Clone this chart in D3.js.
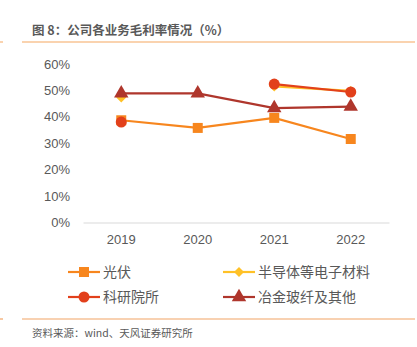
<!DOCTYPE html>
<html>
<head>
<meta charset="utf-8">
<script src="https://cdn.jsdelivr.net/npm/d3@7"></script>
<style>
  body { margin: 0; background: #fff; }
  svg { display: block; font-family: "Noto Sans CJK SC", "Liberation Sans", sans-serif; }
</style>
</head>
<body>
<script>
const width = 417, height = 347;

const years = ["2019", "2020", "2021", "2022"];
const yTicks = [0, 10, 20, 30, 40, 50, 60];

// gross margin by segment, % (null = no data that year)
const pv = [38.7, 35.8, 39.6, 31.6];
const semi = [47.3, null, 51.5, 49.8];
const research = [38.0, null, 52.4, 49.4];
const metal = [48.9, 48.9, 43.3, 43.9];

const seriesNames = ["光伏", "半导体等电子材料", "科研院所", "冶金玻纤及其他"];
const seriesColors = ["#F7861E", "#FFC127", "#E2401B", "#AF362C"];
const seriesShapes = [d3.symbolSquare, d3.symbolSquare, d3.symbolCircle, d3.symbolTriangle];
const seriesRotate = [0, 45, 0, 0];
const seriesSizes = [100, 50, 95, 90];
const seriesData = [pv, semi, research, metal];

const svg = d3.select("body").append("svg")
    .attr("width", width)
    .attr("height", height);

// header
svg.append("text")
    .attr("x", 32).attr("y", 35)
    .attr("font-size", 12.5)
    .attr("font-weight", "bold")
    .attr("fill", "#595959")
    .text("图 8：公司各业务毛利率情况（%）");

svg.append("line").attr("x1", 0).attr("x2", 3).attr("y1", 42).attr("y2", 42)
    .attr("stroke", "#F9C594").attr("stroke-width", 1.5);
svg.append("line").attr("x1", 22).attr("x2", 415).attr("y1", 42).attr("y2", 42)
    .attr("stroke", "#F9C594").attr("stroke-width", 1.5);

const x = d3.scaleBand().domain(years).range([83, 389]);
const y = d3.scaleLinear().domain([0, 60]).range([222.5, 64]);

// y labels (no axis line)
svg.append("g").selectAll("text")
    .data(yTicks).enter().append("text")
    .attr("x", 70)
    .attr("y", d => y(d))
    .attr("dy", "0.35em")
    .attr("text-anchor", "end")
    .attr("font-size", 13)
    .attr("font-family", "Liberation Sans, sans-serif")
    .attr("fill", "#595959")
    .text(d => d + "%");

const xAxis = svg.append("g")
    .attr("transform", "translate(0," + y(0) + ")")
    .call(d3.axisBottom(x).tickSize(0).tickPadding(12));
xAxis.select(".domain").attr("stroke", "#D9D9D9").attr("stroke-width", 1.2);
xAxis.selectAll("text")
    .attr("font-size", 13)
    .attr("fill", "#595959")
    .attr("font-family", "Liberation Sans, sans-serif");

const cx = d => x(d) + x.bandwidth() / 2;

const line = d3.line()
    .defined(d => d.v != null)
    .x(d => cx(d.year))
    .y(d => y(d.v));

seriesData.forEach((vals, i) => {
    const pts = years.map((yr, j) => ({ year: yr, v: vals[j] }));
    const g = svg.append("g");
    g.append("path")
        .datum(pts)
        .attr("d", line)
        .attr("fill", "none")
        .attr("stroke", seriesColors[i])
        .attr("stroke-width", 2.2);
    g.selectAll("path.mark")
        .data(pts.filter(d => d.v != null))
        .enter().append("path")
        .attr("class", "mark")
        .attr("d", d3.symbol().type(seriesShapes[i]).size(seriesSizes[i]))
        .attr("transform", d => "translate(" + cx(d.year) + "," + y(d.v) + ") rotate(" + seriesRotate[i] + ")")
        .attr("fill", seriesColors[i]);
});

// legend
const legendPos = [[68, 272], [223, 272], [68, 297], [223, 297]];
seriesNames.forEach((name, i) => {
    const [lx, ly] = legendPos[i];
    const g = svg.append("g").attr("transform", "translate(" + lx + "," + ly + ")");
    g.append("line").attr("x1", 0).attr("x2", 32).attr("y1", 0).attr("y2", 0)
        .attr("stroke", seriesColors[i]).attr("stroke-width", 2.2);
    g.append("path")
        .attr("d", d3.symbol().type(seriesShapes[i]).size(seriesSizes[i]))
        .attr("transform", "translate(16,0) rotate(" + seriesRotate[i] + ")")
        .attr("fill", seriesColors[i]);
    g.append("text")
        .attr("x", 35).attr("y", 0).attr("dy", "0.36em")
        .attr("font-size", 14)
        .attr("fill", "#595959")
        .text(name);
});

// footer
svg.append("line").attr("x1", 0).attr("x2", 3).attr("y1", 319).attr("y2", 319)
    .attr("stroke", "#F2A364").attr("stroke-width", 1.2);
svg.append("line").attr("x1", 22).attr("x2", 415).attr("y1", 319).attr("y2", 319)
    .attr("stroke", "#F2A364").attr("stroke-width", 1.2);
svg.append("text")
    .attr("x", 32).attr("y", 337)
    .attr("font-size", 10.5)
    .attr("fill", "#595959")
    .text("资料来源：wind、天风证券研究所");
</script>
</body>
</html>
